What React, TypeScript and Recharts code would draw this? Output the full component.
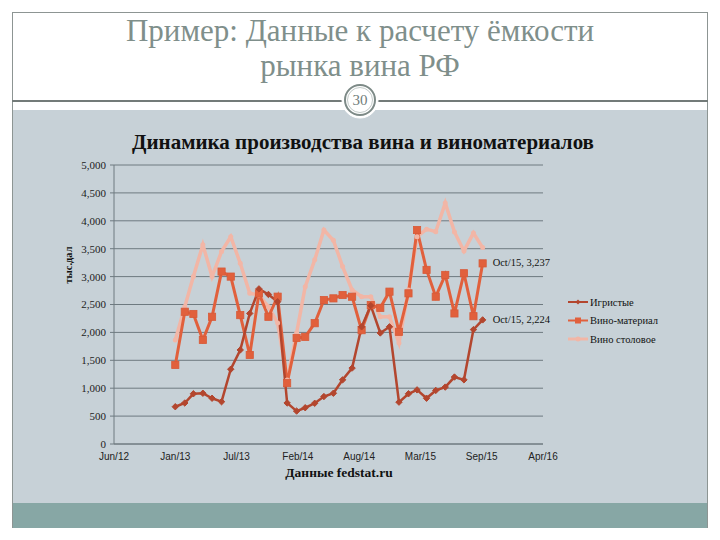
import React from 'react';
import { LineChart, Line, XAxis, YAxis, CartesianGrid, Legend, LabelList } from 'recharts';

// ---- data ----
const months = [
  '2013-01','2013-02','2013-03','2013-04','2013-05','2013-06','2013-07','2013-08','2013-09','2013-10','2013-11','2013-12',
  '2014-01','2014-02','2014-03','2014-04','2014-05','2014-06','2014-07','2014-08','2014-09','2014-10','2014-11','2014-12',
  '2015-01','2015-02','2015-03','2015-04','2015-05','2015-06','2015-07','2015-08','2015-09','2015-10',
];
const sparkling = [
  668, 735, 900, 910, 820, 758, 1340, 1685, 2340, 2780, 2680, 2550,
  735, 590, 650, 730, 850, 910, 1150, 1360, 2100, 2480, 1990, 2100,
  750, 900, 970, 820, 960, 1020, 1200, 1150, 2050, 2224,
];
const wineMaterial = [
  1416, 2370, 2330, 1864, 2280, 3090, 3000, 2310, 1595, 2700, 2280, 2640,
  1090, 1900, 1920, 2165, 2580, 2610, 2670, 2640, 2040, 2490, 2440, 2730,
  2010, 2700, 3835, 3120, 2640, 3030, 2340, 3060, 2290, 3237,
];
const tableWine = [
  1864, 2460, 3000, 3570, 3000, 3450, 3715, 3240, 2700, 2670, 2460, 2170,
  1147, 1990, 2820, 3300, 3835, 3650, 3180, 2760, 2640, 2640, 2280, 2280,
  1810, 2760, 3715, 3850, 3805, 4320, 3800, 3460, 3780, 3520,
];
const seriesNames = ['Игристые', 'Вино-материал', 'Вино столовое'];
const xTickLabels = ['Jun/12', 'Jan/13', 'Jul/13', 'Feb/14', 'Aug/14', 'Mar/15', 'Sep/15', 'Apr/16'];
const yTicks = [0, 500, 1000, 1500, 2000, 2500, 3000, 3500, 4000, 4500, 5000];
const monthNames = ['Jan','Feb','Mar','Apr','May','Jun','Jul','Aug','Sep','Oct','Nov','Dec'];

// ---- helpers ----
const DAY = 86400000;
const toDay = (y: number, m: number, d: number) => Date.UTC(y, m, d) / DAY;
const axisStart = toDay(2012, 5, 15);
const tickStep = 200;
const xTicks = xTickLabels.map((_, i) => axisStart + i * tickStep);
const axisEnd = xTicks[xTicks.length - 1];

const data = months.map((m, i) => {
  const [y, mo] = m.split('-').map(Number);
  return {
    t: toDay(y, mo - 1, 1),
    label: `${monthNames[mo - 1]}/${String(y).slice(2)}`,
    sparkling: sparkling[i],
    wineMaterial: wineMaterial[i],
    tableWine: tableWine[i],
  };
});

const C_DARK = '#b3462e';
const C_MID = '#e1603c';
const C_LIGHT = '#f2b6a6';
const serif = "'Liberation Serif', 'DejaVu Serif', serif";
const narrow = "'Liberation Sans Narrow', 'Arial Narrow', 'Liberation Sans', sans-serif";

const Diamond = (props: any) => {
  const { cx, cy, index } = props;
  if (cx == null || cy == null) return <g key={`d${index}`} />;
  const r = 3.2;
  return <path key={`d${index}`} d={`M${cx},${cy - r}L${cx + r},${cy}L${cx},${cy + r}L${cx - r},${cy}Z`} fill={C_DARK} stroke={C_DARK} strokeWidth={1} />;
};
const Square = (props: any) => {
  const { cx, cy, index } = props;
  if (cx == null || cy == null) return <g key={`s${index}`} />;
  const r = 3.6;
  return <rect key={`s${index}`} x={cx - r} y={cy - r} width={2 * r} height={2 * r} fill={C_MID} stroke="#d85a38" strokeWidth={0.8} />;
};
const SmallDot = (props: any) => {
  const { cx, cy, index } = props;
  if (cx == null || cy == null) return <g key={`l${index}`} />;
  return <circle key={`l${index}`} cx={cx} cy={cy} r={2.5} fill={C_LIGHT} />;
};

const endLabel = (props: any) => {
  const { x, y, value, index } = props;
  if (index !== data.length - 1) return null;
  return (
    <text x={x + 10} y={y + 3} fontFamily={serif} fontSize={10.5} fill="#111">
      {`${data[index].label}, ${Number(value).toLocaleString('en-US')}`}
    </text>
  );
};

const legendMarkers = [
  (x: number, y: number) => <path d={`M${x},${y - 2.5}L${x + 2.5},${y}L${x},${y + 2.5}L${x - 2.5},${y}Z`} fill={C_DARK} />,
  (x: number, y: number) => <rect x={x - 3} y={y - 3} width={6} height={6} fill={C_MID} />,
  (x: number, y: number) => <circle cx={x} cy={y} r={2.5} fill={C_LIGHT} />,
];
const legendColors = [C_DARK, C_MID, C_LIGHT];

const renderLegend = () => (
  <svg width={150} height={56} style={{ display: 'block' }}>
    {seriesNames.map((name, i) => {
      const y = 7 + i * 18.5;
      return (
        <g key={name}>
          <line x1={2} x2={22} y1={y} y2={y} stroke={legendColors[i]} strokeWidth={i === 2 ? 3 : 2} />
          {legendMarkers[i](12, y)}
          <text x={24} y={y + 3.5} fontFamily={serif} fontSize={10.5} fill="#111">{name}</text>
        </g>
      );
    })}
  </svg>
);

export default function App() {
  return (
    <div style={{ position: 'absolute', left: 0, top: 0, width: 720, height: 540, background: '#fff', overflow: 'hidden' }}>
      {/* frame */}
      <div style={{ position: 'absolute', left: 12, top: 12, width: 696, height: 1, background: '#8d9593' }} />
      <div style={{ position: 'absolute', left: 12, top: 12, width: 1, height: 516, background: '#8d9593' }} />
      <div style={{ position: 'absolute', left: 707, top: 12, width: 1, height: 516, background: '#8d9593' }} />
      {/* title */}
      <div style={{ position: 'absolute', left: 0, top: 13, width: 720, textAlign: 'center', fontFamily: serif, fontSize: 31, lineHeight: '35px', color: '#7f8f8b' }}>
        Пример: Данные к расчету ёмкости<br />рынка вина РФ
      </div>
      {/* rule */}
      <div style={{ position: 'absolute', left: 12, top: 100, width: 696, height: 2, background: '#737b79' }} />
      {/* panel */}
      <div style={{ position: 'absolute', left: 13, top: 110, width: 694, height: 393, background: '#c7d1d7' }} />
      <div style={{ position: 'absolute', left: 13, top: 503, width: 694, height: 25, background: '#87a7a5' }} />
      {/* page badge */}
      <svg style={{ position: 'absolute', left: 340, top: 80 }} width={40} height={40}>
        <circle cx={20} cy={20} r={18} fill="#fff" stroke="#fff" />
        <circle cx={20} cy={20} r={15} fill="#fff" stroke="#7d8a87" strokeWidth={2} />
        <circle cx={20} cy={20} r={12.5} fill="none" stroke="#b3bcba" strokeWidth={0.8} />
        <text x={20} y={25} textAnchor="middle" fontFamily={serif} fontSize={15} fill="#6f7d7a">30</text>
      </svg>
      {/* chart title */}
      <div style={{ position: 'absolute', left: 0, top: 130, width: 726, textAlign: 'center', fontFamily: serif, fontWeight: 'bold', fontSize: 21, color: '#111' }}>
        Динамика производства вина и виноматериалов
      </div>
      {/* y label */}
      <div style={{ position: 'absolute', left: 68, top: 265, transform: 'translate(-50%, -50%) rotate(-90deg)', fontFamily: serif, fontWeight: 'bold', fontSize: 10.5, color: '#111', whiteSpace: 'nowrap' }}>
        тыс.дал
      </div>
      {/* source */}
      <div style={{ position: 'absolute', left: 0, top: 465, width: 678, textAlign: 'center', fontFamily: serif, fontWeight: 'bold', fontSize: 13.5, color: '#111' }}>
        Данные fedstat.ru
      </div>
      <div style={{ position: 'absolute', left: 0, top: 0 }}>
        <LineChart width={720} height={540} data={data} margin={{ top: 165, right: 177, bottom: 66, left: 54 }}>
          <CartesianGrid vertical={false} stroke="#6e7a80" strokeWidth={1} />
          <XAxis
            dataKey="t"
            type="number"
            domain={[axisStart, axisEnd]}
            ticks={xTicks}
            tickFormatter={(v: number) => xTickLabels[xTicks.indexOf(v)] ?? ''}
            interval={0}
            height={30}
            tickLine={false}
            tickSize={0}
            tickMargin={9}
            axisLine={{ stroke: '#6e7a80' }}
            tick={{ fontFamily: narrow, fontSize: 10, fill: '#222' }}
          />
          <YAxis
            type="number"
            domain={[0, 5000]}
            ticks={yTicks}
            interval={0}
            width={60}
            tickFormatter={(v: number) => v.toLocaleString('en-US')}
            tickSize={4}
            tickMargin={4}
            tickLine={{ stroke: '#6e7a80' }}
            axisLine={{ stroke: '#6e7a80' }}
            tick={{ fontFamily: serif, fontSize: 11, fill: '#222' }}
          />
          <Legend layout="vertical" align="center" verticalAlign="middle" content={renderLegend}
            wrapperStyle={{ left: 566, top: 295, width: 150, height: 56 }} />
          <Line type="linear" dataKey="tableWine" name={seriesNames[2]} stroke={C_LIGHT} strokeWidth={3.5} dot={SmallDot} activeDot={false} isAnimationActive={false} />
          <Line type="linear" dataKey="wineMaterial" name={seriesNames[1]} stroke={C_MID} strokeWidth={3} dot={Square} activeDot={false} isAnimationActive={false}>
            <LabelList dataKey="wineMaterial" content={endLabel} />
          </Line>
          <Line type="linear" dataKey="sparkling" name={seriesNames[0]} stroke={C_DARK} strokeWidth={2.5} dot={Diamond} activeDot={false} isAnimationActive={false}>
            <LabelList dataKey="sparkling" content={endLabel} />
          </Line>
        </LineChart>
      </div>
    </div>
  );
}
